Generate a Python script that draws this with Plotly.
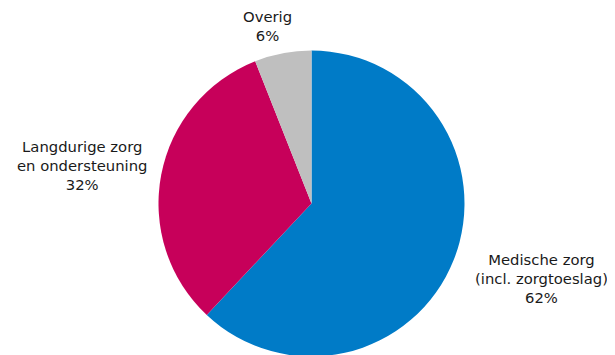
import plotly.graph_objects as go

labels = ["Medische zorg<br>(incl. zorgtoeslag)", "Langdurige zorg<br>en ondersteuning", "Overig"]
values = [62, 32, 6]
colors = ["#007BC7", "#C7005A", "#BFBFBF"]
label_pos = [(533, 270), (74, 157), (259, 18)]  # pixel centers of label blocks (figure coords)

W, H = 615, 355
cx, cy, r = 303.5, 195.5, 153

fig = go.Figure(go.Pie(
    labels=labels, values=values, sort=False, direction="clockwise", rotation=0,
    marker=dict(colors=colors, line=dict(width=0)),
    textinfo="none", hoverinfo="label+percent", showlegend=False,
    domain=dict(x=[(cx - r) / W, (cx + r) / W], y=[1 - (cy + r) / H, 1 - (cy - r) / H]),
))

for lab, val, (px, py) in zip(labels, values, label_pos):
    fig.add_annotation(
        x=px / W, y=1 - py / H, xref="paper", yref="paper",
        text=f"{lab}<br>{val}%", showarrow=False, align="center",
        xanchor="center", yanchor="middle",
        font=dict(family="DejaVu Sans", size=14.8, color="#1a1a1a"),
    )

fig.update_layout(width=W, height=H, margin=dict(l=0, r=0, t=0, b=0),
                  paper_bgcolor="white", plot_bgcolor="white")
fig.write_html("out.html")
